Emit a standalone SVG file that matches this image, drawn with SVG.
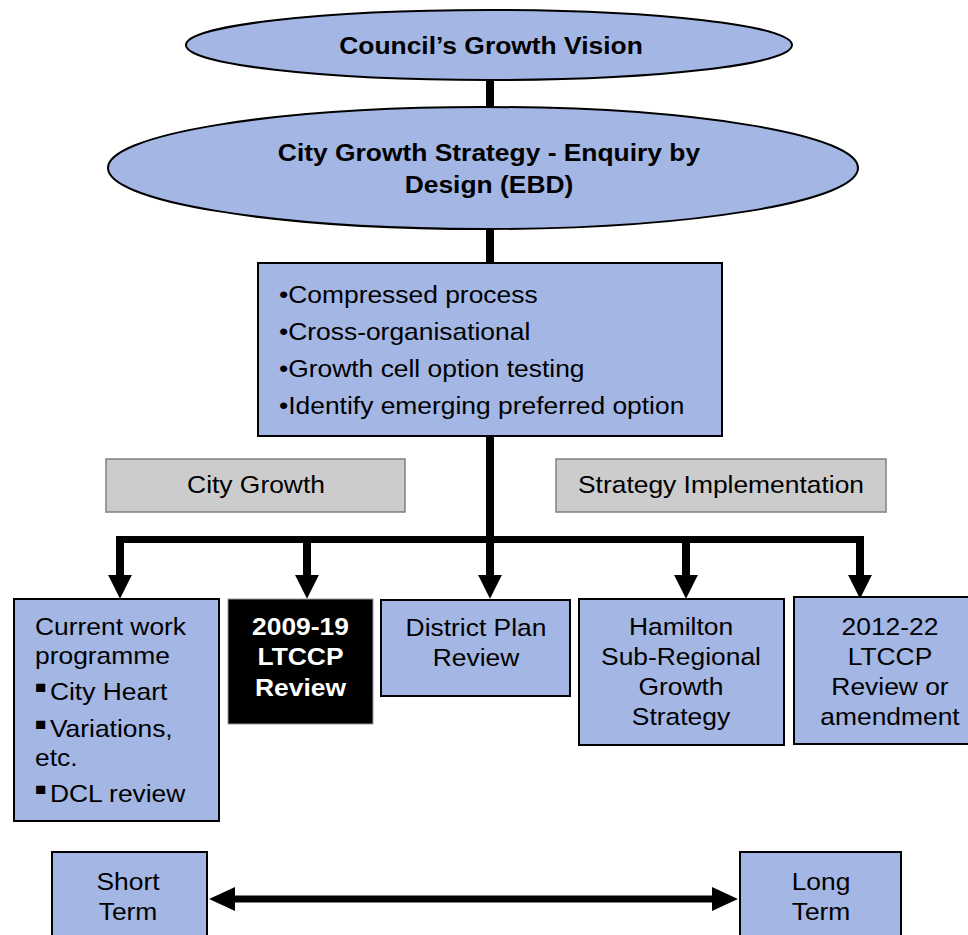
<svg xmlns="http://www.w3.org/2000/svg" width="968" height="935" viewBox="0 0 968 935">
<style>
text{font-family:"Liberation Sans",Arial,sans-serif;font-size:24px;fill:#000}
.b{font-weight:bold}
.w{fill:#fff}
.c{text-anchor:middle}
.sq{font-size:17px}
.blue{fill:#a3b6e4;stroke:#000;stroke-width:2}
.gray{fill:#cccccc;stroke:#808080;stroke-width:1.5}
.conn{stroke:#000;fill:none}
</style>
<defs>
<marker id="ah" markerUnits="userSpaceOnUse" markerWidth="24" markerHeight="24" viewBox="0 0 22 22" refX="2" refY="11" orient="auto-start-reverse">
<path d="M0,0 L22,11 L0,22 z" fill="#000"/>
</marker>
<marker id="ah2" markerUnits="userSpaceOnUse" markerWidth="26" markerHeight="24" viewBox="0 0 25 23" refX="2" refY="11.5" orient="auto-start-reverse">
<path d="M0,0 L25,11.5 L0,23 z" fill="#000"/>
</marker>
</defs>

<g id="connectors">
<path class="conn" stroke-width="8" d="M490,75 V110 M490,225 V266 M490,433 V577"/>
<path class="conn" stroke-width="7" d="M116,539.5 H864"/>
<path class="conn" stroke-width="8" marker-end="url(#ah)" d="M120,536 V577"/>
<path class="conn" stroke-width="8" marker-end="url(#ah)" d="M307,536 V577"/>
<path class="conn" stroke-width="8" marker-end="url(#ah)" d="M490,536 V577"/>
<path class="conn" stroke-width="8" marker-end="url(#ah)" d="M686,536 V577"/>
<path class="conn" stroke-width="8" marker-end="url(#ah)" d="M860,536 V577"/>
<path class="conn" stroke-width="7" marker-start="url(#ah2)" marker-end="url(#ah2)" d="M233,899 H714"/>
</g>

<g id="vision">
<ellipse class="blue" cx="489" cy="45" rx="303" ry="35"/>
<text class="b c" transform="translate(491 54) scale(1.1 1)">Council’s Growth Vision</text>
</g>

<g id="strategy">
<ellipse class="blue" cx="483" cy="168" rx="375" ry="61"/>
<text class="b c" transform="translate(489 161) scale(1.1 1)"><tspan x="0">City Growth Strategy - Enquiry by</tspan><tspan x="0" dy="32">Design (EBD)</tspan></text>
</g>

<g id="process">
<rect class="blue" x="258" y="263" width="464" height="173"/>
<text transform="translate(279 303) scale(1.1 1)"><tspan x="0">•Compressed process</tspan><tspan x="0" dy="37">•Cross-organisational</tspan><tspan x="0" dy="37">•Growth cell option testing</tspan><tspan x="0" dy="37">•Identify emerging preferred option</tspan></text>
</g>

<g id="city-growth">
<rect class="gray" x="106" y="459" width="299" height="53"/>
<text class="c" transform="translate(256 493) scale(1.1 1)">City Growth</text>
</g>

<g id="strategy-impl">
<rect class="gray" x="556" y="459" width="330" height="53"/>
<text class="c" transform="translate(721 493) scale(1.1 1)">Strategy Implementation</text>
</g>

<g id="current-work">
<rect class="blue" x="14" y="599" width="205" height="222"/>
<text transform="translate(35 635) scale(1.1 1)"><tspan x="0">Current work</tspan><tspan x="0" dy="29">programme</tspan><tspan class="sq" x="0" dy="29">■</tspan><tspan x="13.6" dy="7">City Heart</tspan><tspan class="sq" x="0" dy="30">■</tspan><tspan x="13.6" dy="7">Variations,</tspan><tspan x="0" dy="29">etc.</tspan><tspan class="sq" x="0" dy="29">■</tspan><tspan x="13.6" dy="7">DCL review</tspan></text>
</g>

<g id="ltccp-2009">
<rect x="228" y="599" width="145" height="125" fill="#000" stroke="#999" stroke-width="1"/>
<text class="b c w" transform="translate(300.5 635) scale(1.1 1)"><tspan x="0">2009-19</tspan><tspan x="0" dy="30">LTCCP</tspan><tspan x="0" dy="31">Review</tspan></text>
</g>

<g id="district-plan">
<rect class="blue" x="381" y="600" width="189" height="96"/>
<text class="c" transform="translate(476 636) scale(1.1 1)"><tspan x="0">District Plan</tspan><tspan x="0" dy="30">Review</tspan></text>
</g>

<g id="hamilton">
<rect class="blue" x="579" y="599" width="205" height="146"/>
<text class="c" transform="translate(681 635) scale(1.1 1)"><tspan x="0">Hamilton</tspan><tspan x="0" dy="30">Sub-Regional</tspan><tspan x="0" dy="30">Growth</tspan><tspan x="0" dy="30">Strategy</tspan></text>
</g>

<g id="ltccp-2012">
<rect class="blue" x="794" y="597" width="192" height="147"/>
<text class="c" transform="translate(890 635) scale(1.1 1)"><tspan x="0">2012-22</tspan><tspan x="0" dy="30">LTCCP</tspan><tspan x="0" dy="30">Review or</tspan><tspan x="0" dy="30">amendment</tspan></text>
</g>

<g id="short-term">
<rect class="blue" x="52" y="852" width="155" height="100"/>
<text class="c" transform="translate(128 890) scale(1.1 1)"><tspan x="0">Short</tspan><tspan x="0" dy="30">Term</tspan></text>
</g>

<g id="long-term">
<rect class="blue" x="740" y="852" width="161" height="100"/>
<text class="c" transform="translate(821 890) scale(1.1 1)"><tspan x="0">Long</tspan><tspan x="0" dy="30">Term</tspan></text>
</g>
</svg>
